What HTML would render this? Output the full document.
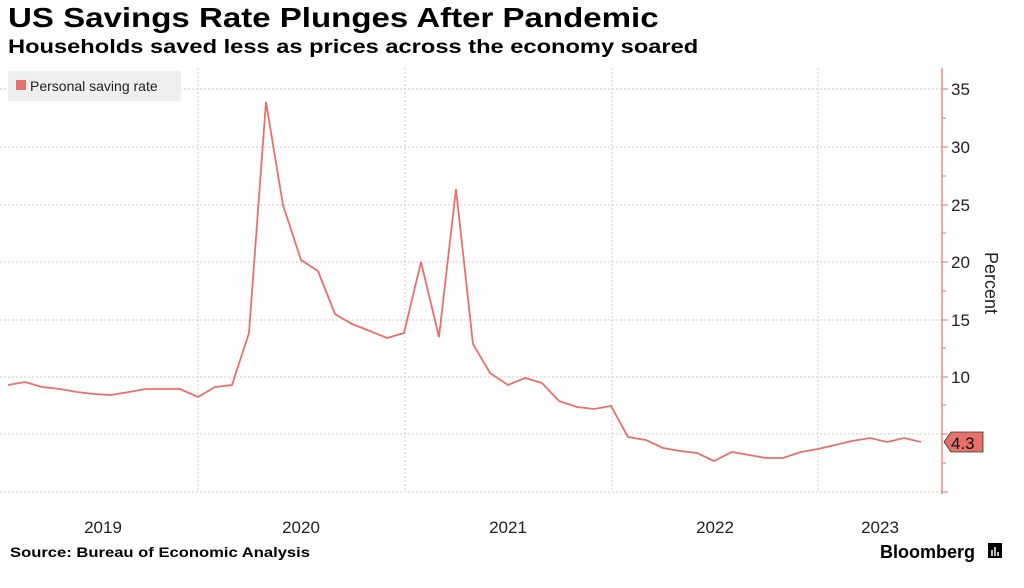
<!DOCTYPE html>
<html><head><meta charset="utf-8"><style>
body{margin:0;width:1024px;height:588px;background:#fff;font-family:"Liberation Sans",sans-serif;overflow:hidden;position:relative}
.t{position:absolute;left:8px;top:2px;font-size:28px;font-weight:bold;color:#000;transform-origin:0 0;transform:scaleX(1.18);white-space:nowrap}
.s{position:absolute;left:8px;top:37px;font-size:19px;font-weight:bold;color:#000;transform-origin:0 0;transform:scaleX(1.245);white-space:nowrap}
</style></head><body>
<div class="t">US Savings Rate Plunges After Pandemic</div>
<div class="s">Households saved less as prices across the economy soared</div>
<svg width="1024" height="588" style="position:absolute;left:0;top:0">
<g stroke="#ccc" stroke-dasharray="2,2" stroke-width="1">
<line x1="0" x2="942" y1="89" y2="89"/><line x1="0" x2="942" y1="147" y2="147"/>
<line x1="0" x2="942" y1="205" y2="205"/><line x1="0" x2="942" y1="262" y2="262"/>
<line x1="0" x2="942" y1="320" y2="320"/><line x1="0" x2="942" y1="377" y2="377"/>
<line x1="0" x2="942" y1="434" y2="434"/><line x1="0" x2="942" y1="492" y2="492"/>
<line x1="198" x2="198" y1="68" y2="492"/><line x1="405" x2="405" y1="68" y2="492"/>
<line x1="612" x2="612" y1="68" y2="492"/><line x1="818" x2="818" y1="68" y2="492"/>
</g>
<rect x="8" y="71" width="173" height="30" fill="#efefef"/>
<rect x="16" y="80" width="10" height="10" fill="#e8706a"/>
<text x="30" y="91" font-size="14" fill="#222">Personal saving rate</text>
<line x1="942" x2="942" y1="68" y2="494" stroke="#e8706a" stroke-width="1.2"/>
<g stroke="#e8706a"><line x1="942" x2="948" y1="89" y2="89"/><line x1="942" x2="948" y1="147" y2="147"/><line x1="942" x2="948" y1="205" y2="205"/><line x1="942" x2="948" y1="262" y2="262"/><line x1="942" x2="948" y1="320" y2="320"/><line x1="942" x2="948" y1="377" y2="377"/><line x1="942" x2="948" y1="434" y2="434"/><line x1="942" x2="948" y1="492" y2="492"/>
<line x1="942" x2="946" y1="118" y2="118"/><line x1="942" x2="946" y1="176" y2="176"/><line x1="942" x2="946" y1="233" y2="233"/><line x1="942" x2="946" y1="291" y2="291"/><line x1="942" x2="946" y1="348" y2="348"/><line x1="942" x2="946" y1="405" y2="405"/><line x1="942" x2="946" y1="463" y2="463"/></g>
<g font-size="17" fill="#222">
<text x="951" y="95">35</text><text x="951" y="153">30</text><text x="951" y="211">25</text><text x="951" y="268">20</text><text x="951" y="326">15</text><text x="951" y="383">10</text>
</g>
<text x="985" y="283" font-size="18" fill="#222" transform="rotate(90 985 283)" text-anchor="middle">Percent</text>
<polyline fill="none" stroke="#e8706a" stroke-width="1.8" points="8,385 25,382 42,387 60,389 77,392 94,394 111,395 129,392 146,389 163,389 180,389 198,397 215,387 232,385 249,333 266,102 283,205 301,260 318,271 335,314 352,324 370,331 387,338 404,333 421,262 439,337 456,189 473,344 490,373 508,385 525,378 542,383 559,401 577,407 594,409 611,406 628,437 646,440 663,448 680,451 697,453 714,461 732,452 749,455 766,458 783,458 801,452 818,449 835,445 852,441 870,438 887,442 904,438 921,442"/>
<polygon points="944,442 951,432 983,432 983,452 951,452" fill="#e8706a" stroke="#333" stroke-width="0.8"/>
<text x="951" y="449" font-size="17" fill="#111">4.3</text>
<g font-size="17" fill="#222" text-anchor="middle">
<text x="103" y="533">2019</text><text x="301" y="533">2020</text><text x="508" y="533">2021</text><text x="715" y="533">2022</text><text x="880" y="533">2023</text>
</g>
<text x="10" y="557" font-size="14" font-weight="bold" fill="#000" textLength="300" lengthAdjust="spacingAndGlyphs">Source:  Bureau of Economic Analysis</text>
<text x="880" y="558" font-size="18" font-weight="bold" fill="#000">Bloomberg</text>
<rect x="988" y="543" width="14" height="15" fill="#000"/>
<g stroke="#fff" stroke-width="1.5"><line x1="992" x2="992" y1="550" y2="556"/><line x1="995" x2="995" y1="547" y2="556"/><line x1="998" x2="998" y1="552" y2="556"/></g>
</svg>
</body></html>
